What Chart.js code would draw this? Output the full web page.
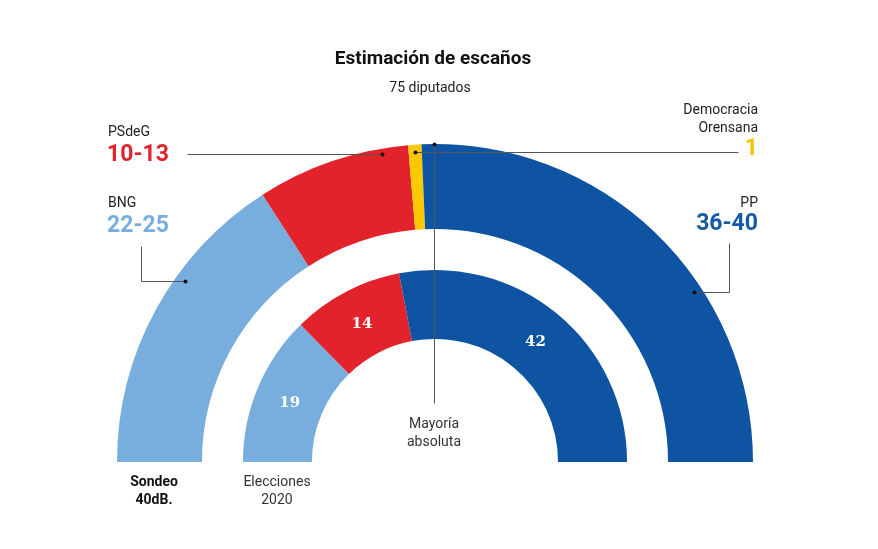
<!DOCTYPE html>
<html>
<head>
<meta charset="utf-8">
<script src="https://cdn.jsdelivr.net/npm/chart.js@4"></script>
<style>
  html, body { margin: 0; padding: 0; background: #fff; }
  body { width: 878px; height: 549px; position: relative; overflow: hidden; font-family: Roboto, "Liberation Sans", sans-serif; color: #222; }
  #wrap { position: absolute; left: 0; top: 0; width: 878px; height: 549px; }
  .lbl { position: absolute; white-space: nowrap; line-height: 1; }
  .name { font-size: 14px; color: #222; }
  .num { font-size: 23px; font-weight: 700; }
  .right { text-align: right; }
  .center { text-align: center; transform: translateX(-50%); }
</style>
</head>
<body>
<div id="wrap"><canvas id="seats" width="878" height="549"></canvas></div>

<div class="lbl center" style="left:433px;top:48px;font-size:19px;font-weight:700;color:#111;">Estimación de escaños</div>
<div class="lbl center" style="left:430px;top:80px;font-size:14px;">75 diputados</div>

<div class="lbl name" style="left:108px;top:124px;">PSdeG</div>
<div class="lbl num" style="left:107px;top:142px;color:#e1242b;">10-13</div>

<div class="lbl name" style="left:108px;top:195px;">BNG</div>
<div class="lbl num" style="left:107px;top:213px;color:#78aede;">22-25</div>

<div class="lbl name right" style="right:120px;top:100px;line-height:18px;">Democracia<br>Orensana</div>
<div class="lbl num right" style="right:120px;top:136px;color:#f5c300;">1</div>

<div class="lbl name right" style="right:120px;top:195px;">PP</div>
<div class="lbl num right" style="right:120px;top:211px;color:#155aa5;">36-40</div>

<div class="lbl name center" style="left:434px;top:414px;line-height:18px;color:#333;">Mayoría<br>absoluta</div>
<div class="lbl name center" style="left:154px;top:472px;line-height:18px;font-weight:700;color:#111;">Sondeo<br>40dB.</div>
<div class="lbl name center" style="left:277px;top:472px;line-height:18px;color:#333;">Elecciones<br>2020</div>

<script>
// parties, left to right
const parties = ['BNG', 'PSdeG', 'Democracia Orensana', 'PP'];
const colors = ['#78aede', '#e2232b', '#fcc800', '#0e54a2'];
// sondeo 40dB. (midpoints of the ranges)
const sondeo = [23.5, 11.5, 1, 38];
// elecciones 2020
const elecciones = [19, 14, 0, 42];

// leader lines: [points...], dot is the last point
const leaders = [
    [[187, 154], [382, 154]],
    [[738, 152], [415, 152]],
    [[141, 246], [141, 281], [185, 281]],
    [[729, 243], [729, 292], [694, 292]],
    [[434, 403], [434, 144]]
];

const overlay = {
    id: 'overlay',
    afterDatasetsDraw(chart) {
        const ctx = chart.ctx;
        // values on the 2020 ring
        const meta = chart.getDatasetMeta(2);
        ctx.save();
        ctx.fillStyle = '#fff';
        ctx.font = 'bold 15px "DejaVu Serif", "Liberation Serif", serif';
        ctx.textAlign = 'center';
        ctx.textBaseline = 'middle';
        meta.data.forEach((arc, i) => {
            if (!elecciones[i]) return;
            const p = arc.getProps(['x', 'y', 'startAngle', 'endAngle', 'innerRadius', 'outerRadius'], true);
            const a = (p.startAngle + p.endAngle) / 2;
            const r = (p.innerRadius + p.outerRadius) / 2;
            ctx.fillText(String(elecciones[i]), p.x + Math.cos(a) * r, p.y + Math.sin(a) * r + 2);
        });
        // leader lines
        ctx.strokeStyle = '#555';
        ctx.lineWidth = 1;
        leaders.forEach(pts => {
            ctx.beginPath();
            pts.forEach((pt, k) => k ? ctx.lineTo(pt[0] + 0.5, pt[1] + 0.5) : ctx.moveTo(pt[0] + 0.5, pt[1] + 0.5));
            ctx.stroke();
            const d = pts[pts.length - 1];
            ctx.fillStyle = '#111';
            ctx.beginPath();
            ctx.arc(d[0] + 0.5, d[1] + 0.5, 2, 0, Math.PI * 2);
            ctx.fill();
        });
        ctx.restore();
    }
};

new Chart(document.getElementById('seats'), {
    type: 'doughnut',
    data: {
        labels: parties,
        datasets: [
            { data: sondeo, backgroundColor: colors, borderWidth: 0, weight: 85 },
            { data: [1], backgroundColor: ['rgba(0,0,0,0)'], borderWidth: 0, weight: 41 },
            { data: elecciones, backgroundColor: colors, borderWidth: 0, weight: 69 }
        ]
    },
    options: {
        responsive: false,
        animation: false,
        events: [],
        rotation: -90,
        circumference: 180,
        cutout: '38.7%',
        layout: { padding: { left: 117, right: 125, top: 144, bottom: 87 } },
        plugins: {
            legend: { display: false },
            tooltip: { enabled: false },
            title: { display: false }
        }
    },
    plugins: [overlay]
});
</script>
</body>
</html>
